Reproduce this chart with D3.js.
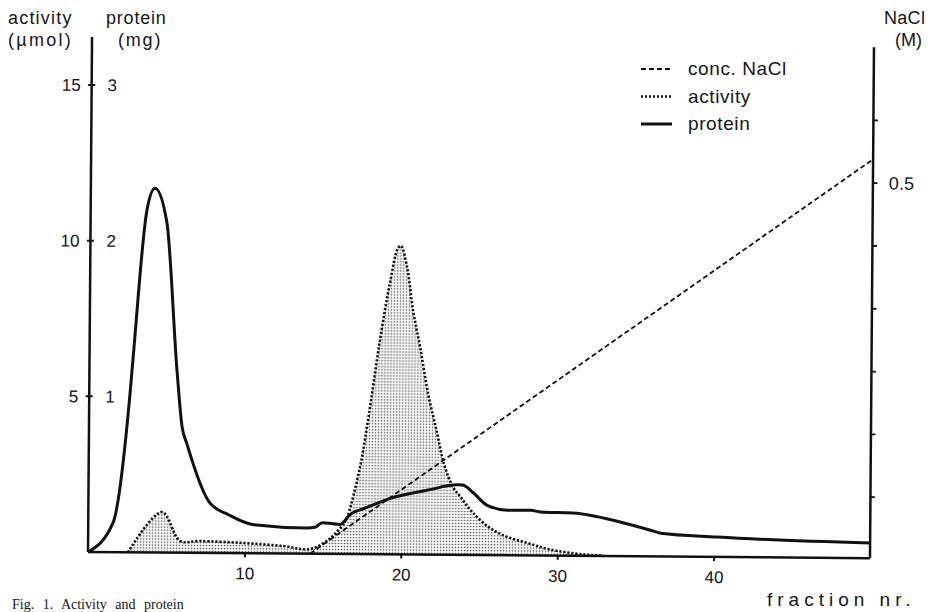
<!DOCTYPE html>
<html>
<head>
<meta charset="utf-8">
<script src="https://cdn.jsdelivr.net/npm/d3@7"></script>
<style>
  body { margin: 0; background: #fff; }
  svg { display: block; font-family: "Liberation Sans", Arial, sans-serif; }
  text { fill: #151515; }
</style>
</head>
<body>
<svg id="chart" width="931" height="612"></svg>
<script>
// fraction numbers and values
const proteinFraction = [0, 1.59, 2.6, 2.78, 3.6, 4.1, 4.88, 5.6, 5.95, 6.27, 7.78, 9.0, 10.5,
  14.0, 14.5, 14.96, 16.1, 16.7, 17.8, 19.3, 21.7, 23.6, 23.9, 24.6, 25.5, 26.8, 28.3, 28.9,
  31.0, 34.0, 35.9, 36.6, 40.2, 50];
const proteinMg = [0, 0.19, 1.01, 1.24, 2.2, 2.34, 2.12, 1.17, 0.81, 0.7, 0.32, 0.245, 0.185,
  0.165, 0.17, 0.2, 0.19, 0.25, 0.3, 0.36, 0.415, 0.45, 0.45, 0.4, 0.32, 0.29, 0.29, 0.28,
  0.275, 0.22, 0.17, 0.15, 0.128, 0.097];

const activityFraction = [2.55, 4.71, 5.88, 7.16, 9.9, 12.5, 14.2, 15.5, 16.4, 16.6, 17.35, 17.96,
  18.56, 19.17, 19.67, 19.86, 20.26, 20.66, 21.13, 21.66, 22.26, 22.7, 23.3, 23.8, 24.6, 25.7,
  26.8, 28.1, 29.5, 31.6, 32.7, 33.0];
const activityUmol = [0, 1.3, 0.38, 0.38, 0.33, 0.24, 0.15, 0.51, 1.03, 1.25, 2.8, 4.73,
  6.88, 8.72, 9.84, 9.91, 9.23, 7.85, 6.67, 5.19, 3.91, 2.95, 2.18, 1.86, 1.35, 0.87,
  0.59, 0.4, 0.2, 0.05, 0.02, 0];

const naclFraction = [14.2, 50];
const naclMolar = [-0.097, 0.538];

const fractionTicks = [10, 20, 30, 40];
const activityTicks = [5, 10, 15];
const proteinTickLabels = ["1", "2", "3"];
const naclTicks = [0, 0.1, 0.2, 0.3, 0.4, 0.5, 0.6];
const naclTickLabels = {"0.5": "0.5"};

const legendItems = [
  {label: "conc. NaCl", dash: "5,3", width: 1.8},
  {label: "activity", dash: "2,2", width: 2.6},
  {label: "protein", dash: null, width: 3}
];

const svg = d3.select("#chart");

// stipple screen used under the activity curve
svg.append("defs").append("pattern")
    .attr("id", "stipple")
    .attr("width", 3).attr("height", 3)
    .attr("patternUnits", "userSpaceOnUse")
  .append("circle")
    .attr("cx", 1.5).attr("cy", 1.5).attr("r", 0.85)
    .attr("fill", "#505050");

const width = 782, height = 515;

// the scanned plot is turned a little clockwise, so rotate the frame
const chart = svg.append("g")
    .attr("transform", "translate(88,552) rotate(0.45)");

const x = d3.scaleLinear().domain([0, 50]).range([0, width]);
const yAct = d3.scaleLinear().domain([0, 15]).range([0, -467]);
const yProt = d3.scaleLinear().domain([0, 3]).range([0, -467]);
const yNacl = d3.scaleLinear().domain([0, 0.5]).range([-61, -375]);

const activity = activityFraction.map((f, i) => ({x: f, y: activityUmol[i]}));
const protein = proteinFraction.map((f, i) => ({x: f, y: proteinMg[i]}));
const nacl = naclFraction.map((f, i) => ({x: f, y: naclMolar[i]}));

const activityCurve = d3.curveCatmullRom.alpha(0.5);

const area = d3.area()
    .x(d => x(d.x))
    .y0(yAct(0))
    .y1(d => yAct(d.y))
    .curve(activityCurve);

chart.append("path")
    .datum(activity)
    .attr("d", area)
    .attr("fill", "url(#stipple)");

chart.append("path")
    .datum(activity)
    .attr("d", d3.line().x(d => x(d.x)).y(d => yAct(d.y)).curve(activityCurve))
    .attr("fill", "none")
    .attr("stroke", "#111")
    .attr("stroke-width", 2.6)
    .attr("stroke-dasharray", "2.2,1.8");

chart.append("path")
    .datum(nacl)
    .attr("d", d3.line().x(d => x(d.x)).y(d => yNacl(d.y)))
    .attr("fill", "none")
    .attr("stroke", "#111")
    .attr("stroke-width", 1.8)
    .attr("stroke-dasharray", "5,3");

chart.append("path")
    .datum(protein)
    .attr("d", d3.line().x(d => x(d.x)).y(d => yProt(d.y)).curve(d3.curveMonotoneX))
    .attr("fill", "none")
    .attr("stroke", "#111")
    .attr("stroke-width", 3)
    .attr("stroke-linejoin", "round");

// bottom axis
const xAxis = d3.axisBottom(x)
    .tickValues(fractionTicks)
    .tickSize(4)
    .tickSizeOuter(0)
    .tickPadding(10);

const xAxisG = chart.append("g").call(xAxis);
xAxisG.select(".domain").remove();
xAxisG.selectAll("line").attr("stroke", "#111").attr("stroke-width", 2);
xAxisG.selectAll("text")
    .attr("font-size", 17)
    .attr("font-family", "Liberation Sans, Arial, sans-serif")
    .attr("fill", "#151515");

chart.append("line")
    .attr("x1", 0).attr("x2", width)
    .attr("y1", 0).attr("y2", 0)
    .attr("stroke", "#111").attr("stroke-width", 2.5);

chart.append("line")
    .attr("x1", 0).attr("x2", 0)
    .attr("y1", 0).attr("y2", -height)
    .attr("stroke", "#111").attr("stroke-width", 2.5);

chart.append("line")
    .attr("x1", width).attr("x2", width)
    .attr("y1", 0).attr("y2", -511)
    .attr("stroke", "#111").attr("stroke-width", 2.5);

// left axis: activity on the left, protein on the right of the line
const leftTicks = chart.append("g").selectAll("g")
    .data(activityTicks)
  .join("g")
    .attr("transform", d => `translate(0,${yAct(d)})`);

leftTicks.append("line")
    .attr("x1", -3.5).attr("x2", 3.5)
    .attr("stroke", "#111").attr("stroke-width", 2);

leftTicks.append("text")
    .attr("x", -11).attr("dy", "0.35em")
    .attr("text-anchor", "end")
    .attr("font-size", 17)
    .text(d => d);

leftTicks.append("text")
    .attr("x", 16).attr("dy", "0.35em")
    .attr("font-size", 17)
    .text((d, i) => proteinTickLabels[i]);

// right axis: NaCl
const rightTicks = chart.append("g").selectAll("g")
    .data(naclTicks)
  .join("g")
    .attr("transform", d => `translate(${width},${yNacl(d)})`);

rightTicks.append("line")
    .attr("x1", 0).attr("x2", 4.5)
    .attr("stroke", "#111").attr("stroke-width", 1.8);

rightTicks.append("text")
    .attr("x", 16).attr("dy", "0.35em")
    .attr("font-size", 18)
    .text(d => naclTickLabels[d.toFixed(1)] || "");

// axis titles
svg.append("text").attr("x", 8).attr("y", 24).attr("font-size", 18)
    .attr("letter-spacing", 1.2).text("activity");
svg.append("text").attr("x", 8).attr("y", 46).attr("font-size", 18)
    .attr("letter-spacing", 2.3).text("(µmol)");
svg.append("text").attr("x", 106).attr("y", 24).attr("font-size", 18)
    .attr("letter-spacing", 0.8).text("protein");
svg.append("text").attr("x", 118).attr("y", 46).attr("font-size", 18)
    .attr("letter-spacing", 1.8).text("(mg)");
svg.append("text").attr("x", 884).attr("y", 24).attr("font-size", 18)
    .attr("letter-spacing", 0.3).text("NaCl");
svg.append("text").attr("x", 895).attr("y", 46).attr("font-size", 18)
    .text("(M)");
svg.append("text").attr("x", 767).attr("y", 606).attr("font-size", 19)
    .attr("letter-spacing", 5).text("fraction nr.");

// legend
const legend = svg.append("g").selectAll("g")
    .data(legendItems)
  .join("g")
    .attr("transform", (d, i) => `translate(641,${69 + i * 27.5})`);

legend.append("line")
    .attr("x1", 0).attr("x2", 31)
    .attr("stroke", "#111")
    .attr("stroke-width", d => d.width)
    .attr("stroke-dasharray", d => d.dash);

legend.append("text")
    .attr("x", 47).attr("y", 6)
    .attr("font-size", 19)
    .attr("letter-spacing", 0.6)
    .text(d => d.label);

// caption at the page edge
svg.append("text")
    .attr("x", 12).attr("y", 609)
    .attr("font-family", "Liberation Serif, Times New Roman, serif")
    .attr("font-size", 14)
    .attr("word-spacing", 5)
    .text("Fig. 1. Activity and protein");
</script>
</body>
</html>
